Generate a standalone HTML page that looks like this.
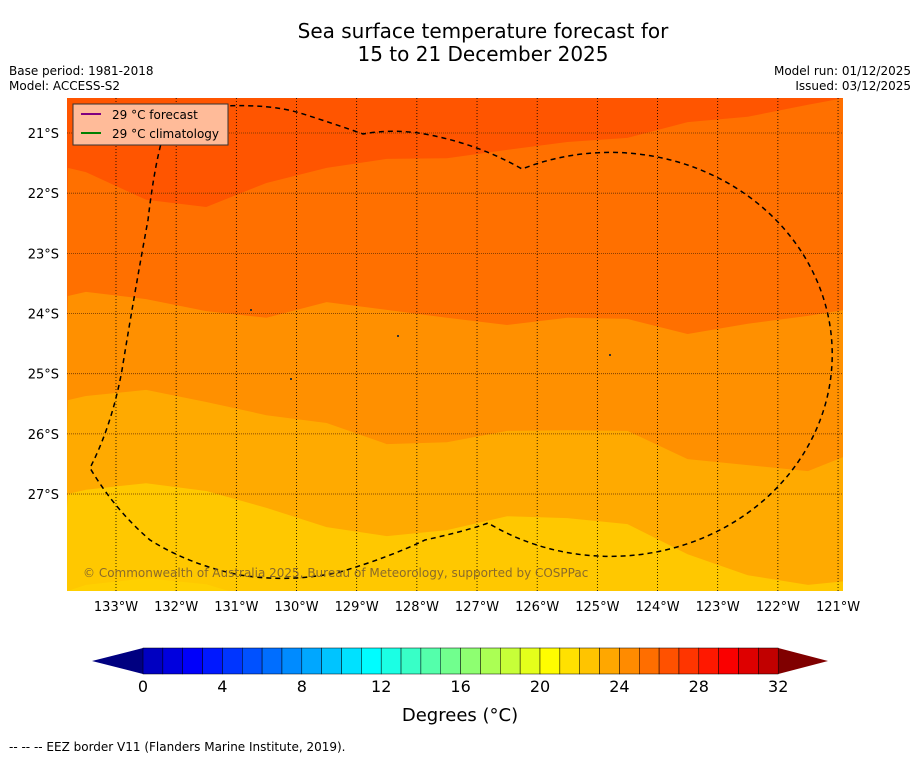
<!DOCTYPE html>
<html><head><meta charset="utf-8"><style>
body{margin:0;background:#fff;width:919px;height:758px;overflow:hidden;font-family:"Liberation Sans","DejaVu Sans",sans-serif}
svg{position:absolute;left:0;top:0}
</style></head><body>
<svg id="c" width="919" height="758" font-family="DejaVu Sans, Liberation Sans, sans-serif"></svg>
<script>
const lonTicks=[-133,-132,-131,-130,-129,-128,-127,-126,-125,-124,-123,-122,-121];
const latTicks=[-21,-22,-23,-24,-25,-26,-27];
const lonSamples=[-133.8,-133.5,-132.5,-131.5,-130.5,-129.5,-128.5,-127.5,-126.5,-125.5,-124.5,-123.5,-122.5,-121.5,-120.9];
const b28=[-21.58,-21.65,-22.11,-22.23,-21.83,-21.58,-21.43,-21.42,-21.28,-21.15,-21.08,-20.82,-20.73,-20.53,-20.42];
const b27=[-23.71,-23.64,-23.76,-23.96,-24.07,-23.81,-23.94,-24.07,-24.19,-24.07,-24.09,-24.34,-24.17,-24.04,-23.94];
const b26=[-25.44,-25.37,-25.27,-25.47,-25.69,-25.82,-26.17,-26.14,-25.95,-25.94,-25.95,-26.42,-26.52,-26.62,-26.38];
const b25=[-27.0,-26.93,-26.82,-26.95,-27.23,-27.55,-27.70,-27.60,-27.37,-27.40,-27.50,-28.0,-28.35,-28.51,-28.45];
const b24=[-28.61,-28.51,-28.40,-28.50,-28.8,-29,-29,-29,-29,-29,-29,-29,-29,-29,-29];
const cbTicks=[0,4,8,12,16,20,24,28,32];
const NS='http://www.w3.org/2000/svg';
const svg=document.getElementById('c');
const X=lon=>116+(lon+133)*60.17;
const Y=lat=>133+(-21-lat)*60.17;
const CB=v=>143+v*19.85;
function mk(t,a,p){const e=document.createElementNS(NS,t);for(const k in a)e.setAttribute(k,a[k]);(p||svg).appendChild(e);return e;}
function txt(s,x,y,size,anchor,p,fill){const e=mk('text',{x:x,y:y,'font-size':size,'text-anchor':anchor||'start',fill:fill||'#000'},p);e.textContent=s;return e;}
const defs=mk('defs',{});
const cp=mk('clipPath',{id:'mc'},defs);mk('rect',{x:67,y:98,width:776,height:493},cp);
const map=mk('g',{'clip-path':'url(#mc)'});


const bg=mk('rect',{x:67,y:98,width:776,height:493,fill:'#ff5500'},map);


const bands=[[b28,'#ff7000','band-27-28'],[b27,'#ff9000','band-26-27'],[b26,'#ffaa00','band-25-26'],[b25,'#ffc800','band-24-25'],[b24,'#ffd000','band-23-24']];
bands.forEach(([b,col,name])=>{
 let d='M'+X(lonSamples[0])+','+Y(b[0]);
 for(let i=1;i<b.length;i++)d+=' L'+X(lonSamples[i])+','+Y(b[i]);
 d+=' L850,620 L60,620 Z';
 const p=mk('path',{d:d,fill:col},map);
 
 
});
latTicks.forEach(l=>{const e=mk('line',{x1:67,x2:843,y1:Y(l),y2:Y(l),stroke:'#6a3000','stroke-width':0.8,'stroke-dasharray':'1,1'},map);
 
 });
lonTicks.forEach(l=>{const e=mk('line',{x1:X(l),x2:X(l),y1:98,y2:591,stroke:'#000','stroke-width':0.8,'stroke-dasharray':'1,2'},map);
 
 });
const eez=mk('path',{d:'M165,130 Q180,108 225,106 Q270,104 300,113 Q335,124 363,134 Q395,128 430,135 Q480,145 522,169 A222 202 0 1 1 488,523 Q470,530 425,540 Q390,557 340,572 Q290,583 240,575 Q190,565 150,540 Q115,510 90,468 Q112,425 122,370 Q135,290 148,220 Q155,160 165,130 Z',fill:'none',stroke:'#000','stroke-width':1.5,'stroke-dasharray':'5,4'},map);


[[250,309],[397,335],[290,378],[609,354]].forEach(p=>{const e=mk('rect',{x:p[0],y:p[1],width:2,height:2,fill:'#333'},map);
 
 });
const cr=txt('© Commonwealth of Australia 2025, Bureau of Meteorology, supported by COSPPac',83,577,12,'start',map,'#8a6a2a');


const lg=mk('g',{});


mk('rect',{x:73,y:104,width:155,height:41,fill:'#ffbb99',stroke:'#333','stroke-width':1},lg);
mk('line',{x1:81,x2:101,y1:114,y2:114,stroke:'#800080','stroke-width':2},lg);
mk('line',{x1:81,x2:101,y1:133,y2:133,stroke:'#008000','stroke-width':2},lg);
txt('29 °C  forecast',112,119,12,'start',lg).setAttribute('xml:space','preserve');
txt('29 °C  climatology',112,138,12,'start',lg).setAttribute('xml:space','preserve');
lonTicks.forEach(l=>{const e=txt(Math.abs(l)+'°W',X(l),611,13,'middle');
 
 });
latTicks.forEach(l=>{const e=txt(Math.abs(l)+'°S',59,Y(l)+5,13,'end');
 
 });
const t1=txt('Sea surface temperature forecast for',483,38,20,'middle');


txt('15 to 21 December 2025',483,61,20,'middle');
txt('Base period: 1981-2018',9,75,12);txt('Model: ACCESS-S2',9,90,12);
txt('Model run: 01/12/2025',911,75,12,'end');txt('Issued: 03/12/2025',911,90,12,'end');
function jet(t){const r=Math.min(Math.max(Math.min(4*t-1.5,-4*t+4.5),0),1),g=Math.min(Math.max(Math.min(4*t-0.5,-4*t+3.5),0),1),b=Math.min(Math.max(Math.min(4*t+0.5,-4*t+2.5),0),1);return 'rgb('+Math.round(r*255)+','+Math.round(g*255)+','+Math.round(b*255)+')';}
const cb=mk('g',{});


mk('polygon',{points:'92,661 '+CB(0)+',648 '+CB(0)+',674',fill:'#000080'},cb);
mk('polygon',{points:'828,661 '+CB(32)+',648 '+CB(32)+',674',fill:'#800000'},cb);
for(let i=0;i<32;i++){mk('rect',{x:CB(i),y:648,width:19.85,height:26,fill:jet((i+0.5)/32*0.9+0.05),stroke:'#000','stroke-width':0.5},cb);}
cbTicks.forEach(v=>txt(String(v),CB(v),692,16,'middle',cb));
const dl=txt('Degrees (°C)',460,721,18,'middle');


const ft=txt('--  --  -- EEZ border V11 (Flanders Marine Institute, 2019).',9,751,12);


</script>
</body></html>
